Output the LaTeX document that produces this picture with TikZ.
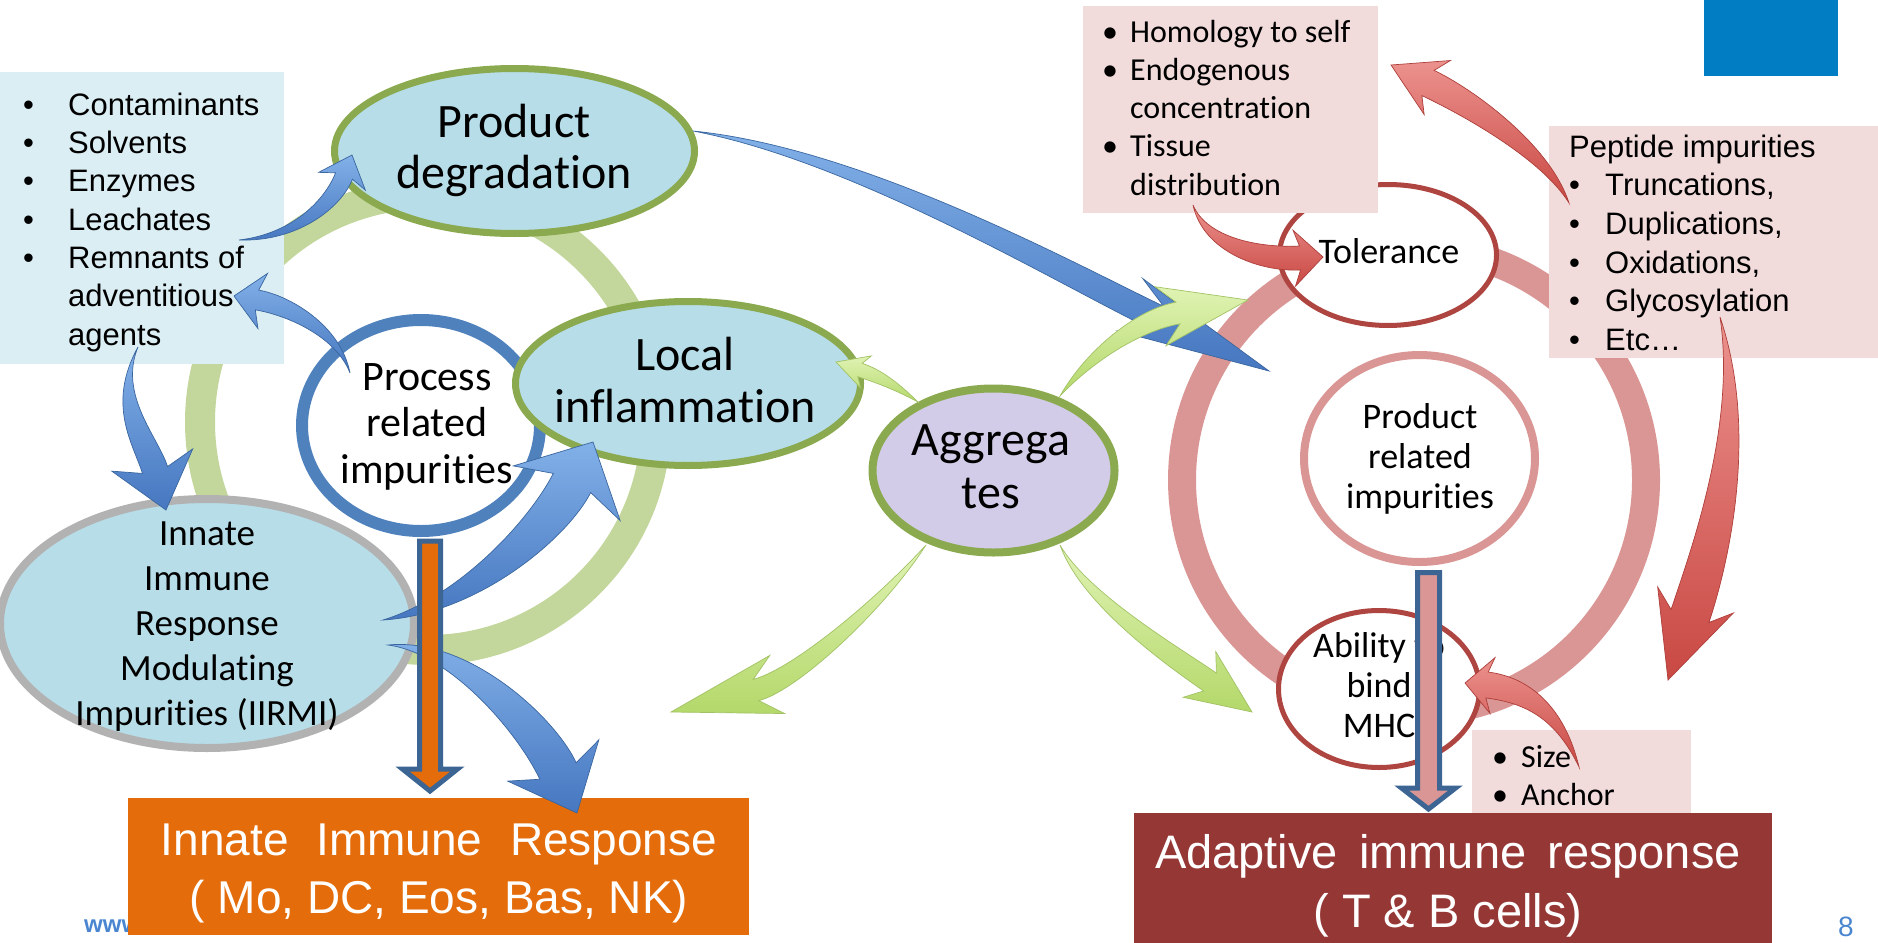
\documentclass[tikz,border=0pt]{standalone}
\usepackage{fontspec}
\setmainfont{Carlito}[Ligatures=CommonOff]
\newfontfamily\arialf{Liberation Sans}
\usetikzlibrary{calc,shapes.geometric}

\definecolor{ellfill}{HTML}{B7DDE8}
\definecolor{ellgreen}{HTML}{8BAA4F}
\definecolor{ringgreen}{HTML}{C3D69B}
\definecolor{ringpink}{HTML}{D99694}
\definecolor{darkred}{HTML}{AF4541}
\definecolor{procblue}{HTML}{4F81BD}
\definecolor{listblue}{HTML}{DBEEF4}
\definecolor{listpink}{HTML}{F2DCDB}
\definecolor{aggfill}{HTML}{D3CCE8}
\definecolor{innateorange}{HTML}{E46C0A}
\definecolor{adaptred}{HTML}{953735}
\definecolor{cornerblue}{HTML}{007DC3}
\definecolor{outlineblue}{HTML}{3C6594}
\definecolor{iirmigray}{HTML}{B2B2B2}
\definecolor{urlblue}{HTML}{4A86D0}
\definecolor{numblue}{HTML}{4A86CE}
\definecolor{bluehi}{HTML}{82B0E8}
\definecolor{bluelo}{HTML}{4677C0}
\definecolor{blueedge}{HTML}{3A669F}
\definecolor{greenhi}{HTML}{E0F3B4}
\definecolor{greenlo}{HTML}{B4D86A}
\definecolor{greenedge}{HTML}{A2C265}
\definecolor{redhi}{HTML}{EC928E}
\definecolor{redlo}{HTML}{C94843}
\definecolor{rededge}{HTML}{AD3E3A}

% Curved, tapered block arrow with a swept head:
% #1 id, #2 style, #3 tail, #4 tail control, #5 head control, #6 head base, #7 tip,
% #8 shaft half width, #9 head half width
\newcommand\bentarrow[9]{%
  \coordinate (#1-tail) at (#3);
  \coordinate (#1-base) at (#6);
  \coordinate (#1-tip) at (#7);
  \coordinate (#1-back) at ($(#1-base)!-0.25!(#1-tip)$);
  \coordinate (#1-l) at ($(#1-base)!#8!90:(#1-tip)$);
  \coordinate (#1-r) at ($(#1-base)!#8!-90:(#1-tip)$);
  \coordinate (#1-hl) at ($(#1-back)!#9!90:(#1-tip)$);
  \coordinate (#1-hr) at ($(#1-back)!#9!-90:(#1-tip)$);
  \coordinate (#1-cl) at ($(#5)+(#1-l)-(#1-base)$);
  \coordinate (#1-cr) at ($(#5)+(#1-r)-(#1-base)$);
  \coordinate (#1-tl0) at ($(#4)!#8!90:(#5)$);
  \coordinate (#1-tr0) at ($(#4)!#8!-90:(#5)$);
  \coordinate (#1-tl) at ($(#4)!0.6!(#1-tl0)$);
  \coordinate (#1-tr) at ($(#4)!0.6!(#1-tr0)$);
  \path[#2] (#1-tail) .. controls (#1-tl) and (#1-cl) .. (#1-l) -- (#1-hl) -- (#1-tip)
    -- (#1-hr) -- (#1-r) .. controls (#1-cr) and (#1-tr) .. cycle;
}
\newcommand\bulbox[1]{\strut\makebox[#1][l]{•}}
\newcommand\hangbox[1]{\strut\hspace*{#1}}

\begin{document}
\begin{tikzpicture}[x=1pt,y=-1pt,
  oval/.style={ellipse, inner sep=0pt, outer sep=0pt},
  ring/.style={circle, inner sep=0pt, outer sep=0pt},
  panel/.style={rectangle, inner sep=0pt, outer sep=0pt, anchor=north west},
  ovaltext/.style={align=center, inner sep=0pt, anchor=north},
  listtext/.style={align=left, inner sep=0pt, anchor=north west},
  bluearrow/.style={top color=bluehi, bottom color=bluelo, draw=blueedge, line width=0.7},
  greenarrow/.style={top color=greenhi, bottom color=greenlo, draw=greenedge, line width=0.7},
  redarrow/.style={top color=redhi, bottom color=redlo, draw=rededge, line width=0.7},
  vertarrow/.style={draw=outlineblue, line width=5, line join=miter},
]
\useasboundingbox (0,0) rectangle (1878,942);

% background rings
\node[ring, draw=ringgreen, line width=30, minimum size=456] (gring) at (428,422) {};
\node[ring, draw=ringpink, line width=28, minimum size=464] (pring) at (1414,480) {};

% left list of process impurities
\node[panel, fill=listblue, minimum width=284, minimum height=292] (lbox) at (0,72) {};
\node[listtext, font={\arialf\fontsize{31}{38.3}\selectfont}] (ltext) at (23,88.2)
  {\bulbox{45pt}Contaminants\\\bulbox{45pt}Solvents\\\bulbox{45pt}Enzymes\\\bulbox{45pt}Leachates\\\bulbox{45pt}Remnants of\\\hangbox{45pt}adventitious\\\hangbox{45pt}agents};

% innate side ovals
\node[oval, fill=ellfill, draw=ellgreen, line width=7, minimum width=360, minimum height=165] (pd) at (514.5,151) {};
\node[oval, fill=white, draw=procblue, line width=12, minimum width=238, minimum height=211] (proc) at (421,425.5) {};
\node[oval, fill=ellfill, draw=ellgreen, line width=7, minimum width=345, minimum height=164] (li) at (688,383.5) {};
\node[oval, fill=ellfill, draw=iirmigray, line width=8, minimum width=414, minimum height=249] (iirmi) at (207,623.5) {};
\node[oval, fill=aggfill, draw=ellgreen, line width=8, minimum width=242, minimum height=164] (agg) at (993.5,470.5) {};

\node[ovaltext, font={\fontsize{48}{51}\selectfont}] (pd-t) at (514,101.3) {\strut Product\\\strut degradation};
\node[ovaltext, font={\fontsize{42}{46.5}\selectfont}] (proc-t) at (427,357.4) {\strut Process\\\strut related\\\strut impurities};
\node[ovaltext, font={\fontsize{48}{52}\selectfont}] (li-t) at (685,333.6) {\strut Local\\\strut inflammation};
\node[ovaltext, font={\fontsize{37}{45}\selectfont}] (iirmi-t) at (207,513.5) {\strut Innate\\\strut Immune\\\strut Response\\\strut Modulating\\\strut Impurities (IIRMI)};
\node[ovaltext, font={\fontsize{48}{53}\selectfont}] (agg-t) at (991,417.9) {\strut Aggrega\\\strut tes};

% adaptive side circles
\node[oval, fill=white, draw=darkred, line width=5, minimum width=217, minimum height=141] (tol) at (1388,255) {};
\node[oval, fill=white, draw=ringpink, line width=8, minimum width=231, minimum height=207] (pri) at (1419.5,458.5) {};
\node[oval, fill=white, draw=darkred, line width=5, minimum width=201, minimum height=157] (mhc) at (1379,689) {};

\node[anchor=base, inner sep=0pt, font={\fontsize{36}{40}\selectfont}] (tol-t) at (1389,263) {Tolerance};
\node[ovaltext, font={\fontsize{36}{40}\selectfont}] (pri-t) at (1420,400) {\strut Product\\\strut related\\\strut impurities};
\node[ovaltext, font={\fontsize{36}{40}\selectfont}] (mhc-t) at (1379,629) {\strut Ability to\\\strut bind\\\strut MHC};

% pink lists
\node[panel, fill=listpink, minimum width=295, minimum height=207] (hbox) at (1083,6) {};
\node[listtext, font={\fontsize{32}{38.25}\selectfont}] (htext) at (1102,15.2)
  {\bulbox{28pt}Homology to self\\\bulbox{28pt}Endogenous\\\hangbox{28pt}concentration\\\bulbox{28pt}Tissue\\\hangbox{28pt}distribution};
\node[panel, fill=listpink, minimum width=329, minimum height=232] (pbox) at (1549,126) {};
\node[listtext, font={\arialf\fontsize{31}{38.6}\selectfont}] (ptext) at (1569,130)
  {\strut Peptide impurities\\\bulbox{36pt}Truncations,\\\bulbox{36pt}Duplications,\\\bulbox{36pt}Oxidations,\\\bulbox{36pt}Glycosylation\\\bulbox{36pt}Etc…};
\node[panel, fill=listpink, minimum width=219, minimum height=100] (sbox) at (1472,730) {};
\node[listtext, font={\fontsize{32}{38}\selectfont}] (stext) at (1492,740.4)
  {\bulbox{29pt}Size\\\bulbox{29pt}Anchor};

% response boxes
\node[anchor=base west, inner sep=0pt, text=urlblue, font={\arialf\bfseries\fontsize{24}{28}\selectfont}] (url) at (84,932) {www};
\node[panel, fill=innateorange, minimum width=621, minimum height=137] (innate) at (128,798) {};
\node[ovaltext, text=white, font={\arialf\fontsize{46}{58}\selectfont}] (innate-t) at (439,814.4)
  {\strut Innate\hspace{0.6em}Immune\hspace{0.6em}Response\\\strut ( Mo, DC, Eos, Bas, NK)};
\node[panel, fill=adaptred, minimum width=638, minimum height=140] (adapt) at (1134,813) {};
\node[ovaltext, text=white, font={\arialf\fontsize{47}{59}\selectfont}] (adapt-t) at (1448,826.7)
  {\strut Adaptive\hspace{0.45em}immune\hspace{0.45em}response\\\strut ( T \& B cells)};

% blue arrows
\bentarrow{ba}{bluearrow}{239,240}{295,238}{333,204}{344,176}{352,155}{9pt}{25pt}
\bentarrow{bb}{bluearrow}{350,373}{338,330}{287,305}{257,300}{234,296}{10pt}{28pt}
\bentarrow{bc}{bluearrow}{138,347}{112,400}{146,441}{155,470}{166,510}{13pt}{42pt}
\bentarrow{bd}{bluearrow}{383,620}{470,605}{549,528}{572,483}{593,442}{21pt}{60pt}
\bentarrow{be}{bluearrow}{388,645}{460,645}{537,726}{558,771}{577,813}{20pt}{50pt}
\bentarrow{bf}{bluearrow}{693,131}{860,155}{1068,275}{1158,318}{1269,371}{13pt}{29pt}

% green arrows from aggregates
\bentarrow{ga}{greenarrow}{918,402}{895,385}{878,376}{860,370}{836,362}{7pt}{17pt}
\bentarrow{gb}{greenarrow}{1060,396}{1090,355}{1139,320}{1178,313}{1248,300}{11pt}{30pt}
\bentarrow{gc}{greenarrow}{926,545}{880,605}{795,680}{756,690}{671,712}{11pt}{30pt}
\bentarrow{gd}{greenarrow}{1060,545}{1085,600}{1177,659}{1210,682}{1252,712}{11pt}{28pt}

% red arrows
\bentarrow{ra}{redarrow}{1569,203}{1545,150}{1464,100}{1428,83}{1391,65}{14pt}{30pt}
\bentarrow{rb}{redarrow}{1193,205}{1205,245}{1260,260}{1300,258}{1323,257}{12pt}{28pt}
\bentarrow{rc}{redarrow}{1720,317}{1748,430}{1709,559}{1690,616}{1668,680}{20pt}{40pt}
\bentarrow{rd}{redarrow}{1579,767}{1560,712}{1527,690}{1487,685}{1465,683}{13pt}{28pt}

% straight block arrows into the response boxes
\coordinate (oa-top) at (430,541);
\coordinate (oa-tip) at (430,791);
\draw[vertarrow, fill=innateorange] ($(oa-top)+(-10.5,0)$) -- ($(oa-tip)+(-10.5,-22)$) -- ($(oa-tip)+(-27.5,-22)$) -- (oa-tip)
  -- ($(oa-tip)+(27.5,-22)$) -- ($(oa-tip)+(10.5,-22)$) -- ($(oa-top)+(10.5,0)$) -- cycle;
\coordinate (pa-top) at (1428.5,572.5);
\coordinate (pa-tip) at (1428.5,809);
\draw[vertarrow, fill=ringpink] ($(pa-top)+(-11,0)$) -- ($(pa-tip)+(-11,-21)$) -- ($(pa-tip)+(-27,-21)$) -- (pa-tip)
  -- ($(pa-tip)+(27,-21)$) -- ($(pa-tip)+(11,-21)$) -- ($(pa-top)+(11,0)$) -- cycle;

% corner mark and page number
\node[panel, fill=cornerblue, minimum width=134, minimum height=76] (corner) at (1704,0) {};
\node[anchor=base west, inner sep=0pt, text=numblue, font={\arialf\fontsize{28}{32}\selectfont}] (pgnum) at (1838,936) {8};
\end{tikzpicture}
\end{document}
